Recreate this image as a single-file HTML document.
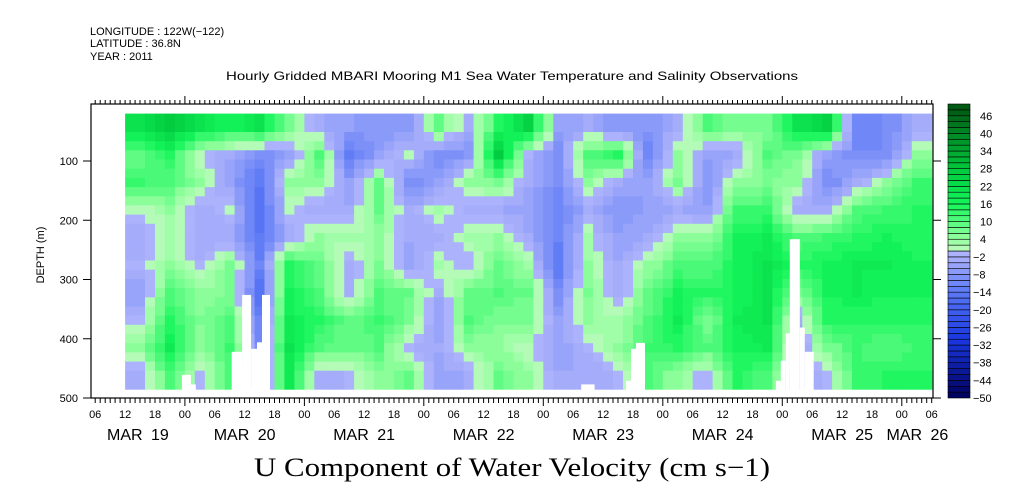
<!DOCTYPE html>
<html><head><meta charset="utf-8"><style>
html,body{margin:0;padding:0;background:#fff;}
svg{display:block;font-family:"Liberation Sans",sans-serif;}
</style></head><body>
<svg id="chart" width="1009" height="504" viewBox="0 0 1009 504" xmlns="http://www.w3.org/2000/svg">
<g font-size="11" fill="#000">
<text x="90" y="35">LONGITUDE : 122W(−122)</text>
<text x="90" y="47">LATITUDE : 36.8N</text>
<text x="90" y="60">YEAR : 2011</text>
</g>
<text x="512" y="80" text-anchor="middle" font-size="12" textLength="572" lengthAdjust="spacingAndGlyphs">Hourly Gridded MBARI Mooring M1 Sea Water Temperature and Salinity Observations</text>
<g id="cells"></g>
<g id="gaps"></g>
<g id="axes"></g>
<g id="cbar"></g>
<text x="512" y="476" text-anchor="middle" font-family="Liberation Serif, serif" font-size="26" textLength="516" lengthAdjust="spacingAndGlyphs">U Component of Water Velocity (cm s−1)</text>
<text transform="translate(44,255) rotate(-90)" text-anchor="middle" font-size="11">DEPTH (m)</text>
</svg>
<script>
// hours since Mar 19 00:00 for each column start (6-hour columns)
const colStartHours = [12,18,24,30,36,42,48,54,60,66,72,78,84,90,96,102,108,114,120,126,132,138,144,150,156,162,168];
const colHours = 6;
const depthEdges = [20,66.5,113,159.5,206,252.5,299,345.5,392,438.5,485];
// values[col][row] cm/s, rows top->bottom
const values = [
[20,8,12,0,-4,-2,-6,-2,4,-4],
[26,14,10,4,2,4,10,14,18,10],
[20,0,4,-4,-4,-2,4,6,4,-2],
[16,-4,-6,0,-4,6,6,10,12,10],
[20,-10,-14,-16,-14,-12,-16,-12,-10,-10],
[6,-6,4,0,-4,14,16,18,20,18],
[-4,10,4,-4,4,8,10,14,10,-4],
[-6,-14,-6,-4,2,-4,-4,8,8,-2],
[-8,-6,8,8,4,6,10,12,10,4],
[-8,0,-10,-4,-4,-6,8,6,-2,8],
[8,-10,-6,2,-4,2,-4,-6,-4,-6],
[-4,-8,4,-4,2,-2,8,10,4,-4],
[14,26,6,-4,4,8,10,6,4,8],
[24,-2,-4,-6,-4,2,8,6,0,4],
[-6,-10,-10,-12,-12,-14,-10,-6,-6,-4],
[-4,10,4,-4,2,4,6,4,-2,-4],
[-8,14,-4,-8,-6,-4,-4,2,4,-2],
[-8,-12,-6,-6,-4,4,8,10,12,10],
[-4,4,6,-4,4,10,16,18,14,4],
[10,-6,-8,-6,4,10,14,6,10,-2],
[6,-4,4,12,16,16,16,18,16,14],
[6,10,6,12,18,20,20,20,18,10],
[20,6,4,-4,10,14,6,-4,-6,-6],
[24,-6,-10,-4,12,16,16,14,6,-2],
[-12,-10,-4,10,14,18,18,14,12,12],
[-10,-10,4,12,16,18,16,14,10,14],
[-4,4,12,14,14,16,16,14,12,14]
];
// missing data: [startHour, endHour, topDepth]
const gapStart = [23.4,25.2,33.4,35.5,37.3,38.5,39.5,103.6,112.6,113.6,114.6,142.7,143.7,144.7,145.5,147.5,148.5];
const gapEnd   = [25.2,26.2,35.5,37.3,38.5,39.5,41.1,106.3,113.6,114.6,116.4,143.7,144.7,145.5,147.5,148.5,150.3];
const gapDepth = [461,477,422,326,417,406,326,477,471,417,407,471,437,391,232,381,422];
const yTicks = [100,200,300,400,500];
const hourLabels = ["06","12","18","00"];
const dateLabels = ["MAR 19","MAR 20","MAR 21","MAR 22","MAR 23","MAR 24","MAR 25","MAR 26"];
const cbarLabels = [46,40,34,28,22,16,10,4,-2,-8,-14,-20,-26,-32,-38,-44,-50];

const NS="http://www.w3.org/2000/svg";
const X0=91, X1=933, Y0=104, Y1=398;
const H0=5.15;
const PXH=4.979;
function xs(h){return X0+(h-H0)*PXH;}
function ys(d){return 101.75+d*0.5925;}
function lerp(a,b,t){return a.map((v,i)=>Math.round(v+(b[i]-v)*t));}
function ramp(stops,v){
  for(let i=0;i<stops.length-1;i++){
    if(v<=stops[i+1][0]){const t=(v-stops[i][0])/(stops[i+1][0]-stops[i][0]);return lerp(stops[i][1],stops[i+1][1],Math.max(0,Math.min(1,t)));}
  }
  return stops[stops.length-1][1];
}
const blueStops=[[-50,[0,0,90]],[-30,[25,55,225]],[-14,[90,120,245]],[-2,[172,178,252]]];
const greenStops=[[0,[190,250,190]],[4,[150,255,160]],[16,[20,245,90]],[28,[0,200,60]],[48,[0,90,20]]];
function color(v){
  let b=Math.floor((v+50)/2); b=Math.max(0,Math.min(49,b));
  const mid=-50+b*2+1;
  const c= mid<0? ramp(blueStops,mid): ramp(greenStops,mid);
  return `rgb(${c[0]},${c[1]},${c[2]})`;
}
function mk(tag,attrs,parent){const e=document.createElementNS(NS,tag);for(const k in attrs)e.setAttribute(k,attrs[k]);parent.appendChild(e);return e;}

// bilinear sample between cell centres
const NC=values.length, NR=values[0].length;
function sample(ci,rj){
  ci=Math.max(0,Math.min(NC-1,ci)); rj=Math.max(0,Math.min(NR-1,rj));
  const i0=Math.floor(ci), j0=Math.floor(rj), i1=Math.min(NC-1,i0+1), j1=Math.min(NR-1,j0+1);
  const ti=ci-i0, tj=rj-j0;
  const a=values[i0][j0]*(1-ti)+values[i1][j0]*ti;
  const b=values[i0][j1]*(1-ti)+values[i1][j1]*ti;
  return a*(1-tj)+b*tj;
}
const SUB=3;
const cells=document.getElementById('cells');
for(let i=0;i<NC;i++){
  for(let si=0;si<SUB;si++){
    const h0=colStartHours[i]+colHours*si/SUB, h1=colStartHours[i]+colHours*(si+1)/SUB;
    const xa=xs(h0), xb=Math.min(X1,xs(h1));
    const ci=i+(si+0.5)/SUB-0.5;
    for(let j=0;j<NR;j++){
      for(let sj=0;sj<SUB;sj++){
        const d0=depthEdges[j]+(depthEdges[j+1]-depthEdges[j])*sj/SUB;
        const d1=depthEdges[j]+(depthEdges[j+1]-depthEdges[j])*(sj+1)/SUB;
        const rj=j+(sj+0.5)/SUB-0.5;
        const v=sample(ci,rj);
        const ya=ys(d0), yb=ys(d1);
        const r=mk('rect',{x:xa.toFixed(1),y:ya.toFixed(1),width:(xb-xa+0.6).toFixed(1),height:(yb-ya+0.6).toFixed(1),fill:color(v)},cells);
        
        
      }
    }
  }
}
const gaps=document.getElementById('gaps');
gapStart.forEach((s,i)=>{
  const r=mk('rect',{x:xs(s).toFixed(1),y:ys(gapDepth[i]).toFixed(1),width:(xs(gapEnd[i])-xs(s)).toFixed(1),height:(ys(485)-ys(gapDepth[i])+1).toFixed(1),fill:'#fff'},gaps);
  
  
});

const ax=document.getElementById('axes');
const frame=mk('rect',{x:X0,y:Y0,width:X1-X0,height:Y1-Y0,fill:'none',stroke:'#000','stroke-width':1.2},ax);


let p='';
for(let h=6;h<=174;h++){
  const x=xs(h); if(x<X0||x>X1) continue;
  const major=(h%24===0);
  p+=`M${x.toFixed(1)},${Y0}v${major?-8:-4}M${x.toFixed(1)},${Y1}v${major?8:5}`;
}
yTicks.forEach(d=>{const y=ys(d);p+=`M${X0-8},${y.toFixed(1)}h8M${X1},${y.toFixed(1)}h8`;});
const tp=mk('path',{d:p,stroke:'#000','stroke-width':1,fill:'none'},ax);


yTicks.forEach(d=>{
  const t=mk('text',{x:78,y:(ys(d)+4).toFixed(1),'text-anchor':'end','font-size':11},ax);
  t.textContent=d;
  
  
});
for(let h=6;h<=174;h+=6){
  const t=mk('text',{x:xs(h).toFixed(1),y:418,'text-anchor':'middle','font-size':11},ax);
  t.textContent=hourLabels[(h/6-1)%4];
  
  
}
dateLabels.forEach((s,i)=>{
  const a=Math.max(X0,xs(i*24)), b=Math.min(X1,xs(i*24+24));
  const t=mk('text',{x:((a+b)/2).toFixed(1),y:440,'text-anchor':'middle','font-size':16,'word-spacing':4},ax);
  t.textContent=s;
  
  
});

const cb=document.getElementById('cbar');
const CX=948, CW=22;
function cy(v){return Y1-(v+50)/100*(Y1-Y0);}
for(let b=0;b<50;b++){
  const v=-50+b*2;
  const r=mk('rect',{x:CX,y:cy(v+2).toFixed(2),width:CW,height:(cy(v)-cy(v+2)).toFixed(2),fill:color(v+1),stroke:'#000','stroke-width':0.6},cb);
  
  
}
cbarLabels.forEach(v=>{
  const t=mk('text',{x:v<0?973:980,y:(cy(v)+4).toFixed(1),'font-size':11},cb);
  t.textContent=(v<0?'−':'')+Math.abs(v);
  
  
});
</script>
</body></html>
